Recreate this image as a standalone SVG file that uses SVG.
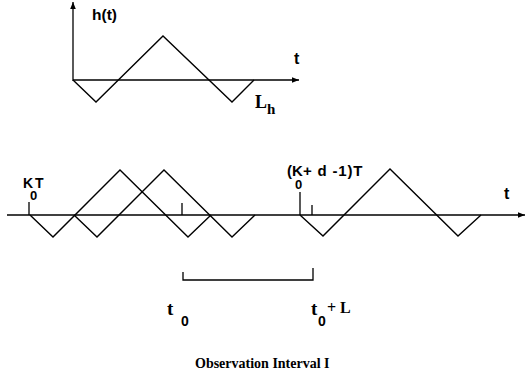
<svg xmlns="http://www.w3.org/2000/svg" width="526" height="382" viewBox="0 0 526 382">
<style>
.ln{fill:none;stroke:#000;stroke-width:1.4;stroke-linejoin:miter}
.ax{fill:none;stroke:#000;stroke-width:1.3}
.sb{font-family:"Liberation Sans",Arial,sans-serif;font-weight:bold;fill:#000}
.rb{font-family:"Liberation Serif","Times New Roman",serif;font-weight:bold;fill:#000}
</style>
<defs>
<marker id="arr" viewBox="0 0 10 10" refX="10" refY="5" markerWidth="10" markerHeight="7" markerUnits="userSpaceOnUse" orient="auto">
<path d="M0,1 L10,5 L0,9 Z" fill="#000"/>
</marker>
</defs>
<g id="top-plot">
<line class="ax" x1="73" y1="81" x2="73" y2="2" marker-end="url(#arr)"/>
<line class="ax" x1="73" y1="80" x2="299" y2="80" marker-end="url(#arr)"/>
<polyline class="ln" points="73,80 96,102 163,36 232,102 254,80"/>
<text class="sb" x="92" y="20" font-size="15" textLength="25" lengthAdjust="spacingAndGlyphs">h(t)</text>
<text class="sb" x="294" y="64" font-size="16">t</text>
<text class="rb" x="255" y="108" font-size="18">L<tspan x="267" dy="6" font-size="15">h</tspan></text>
</g>
<g id="bottom-plot">
<line class="ax" x1="7" y1="215" x2="525" y2="215" marker-end="url(#arr)"/>
<polyline class="ln" points="30,215 53,237 120,170 188,237 211,215"/>
<polyline class="ln" points="74,215 97,237 164,170 232,237 255,215"/>
<polyline class="ln" points="300,215 323,236 390,169 458,236 481,215"/>
<line class="ax" x1="29" y1="202" x2="29" y2="215"/>
<line class="ax" x1="182" y1="203" x2="182" y2="215"/>
<line class="ax" x1="300" y1="192" x2="300" y2="215"/>
<line class="ax" x1="312" y1="205" x2="312" y2="215"/>
<text class="sb" x="504" y="199" font-size="16">t</text>
<text class="sb" x="23" y="188" font-size="14">K<tspan x="30" dy="12" font-size="13">0</tspan><tspan x="35" dy="-12">T</tspan></text>
<text class="sb" x="287" y="176" font-size="15">(K<tspan x="295" dy="13" font-size="13">0</tspan><tspan x="303" dy="-13" letter-spacing="0.8">+ d -1)T</tspan></text>
</g>
<g id="interval">
<path class="ax" d="M183,272 V280 H313 V268"/>
<text class="rb" x="167" y="315" font-size="19">t<tspan x="181" dy="11" class="sb" font-size="14">0</tspan></text>
<text class="rb" x="311" y="315" font-size="19">t<tspan x="318" dy="11" class="sb" font-size="14">0</tspan><tspan x="327" dy="-13" font-size="16">+ L</tspan></text>
<text class="rb" x="195" y="368" font-size="14">Observation Interval I</text>
</g>
</svg>
